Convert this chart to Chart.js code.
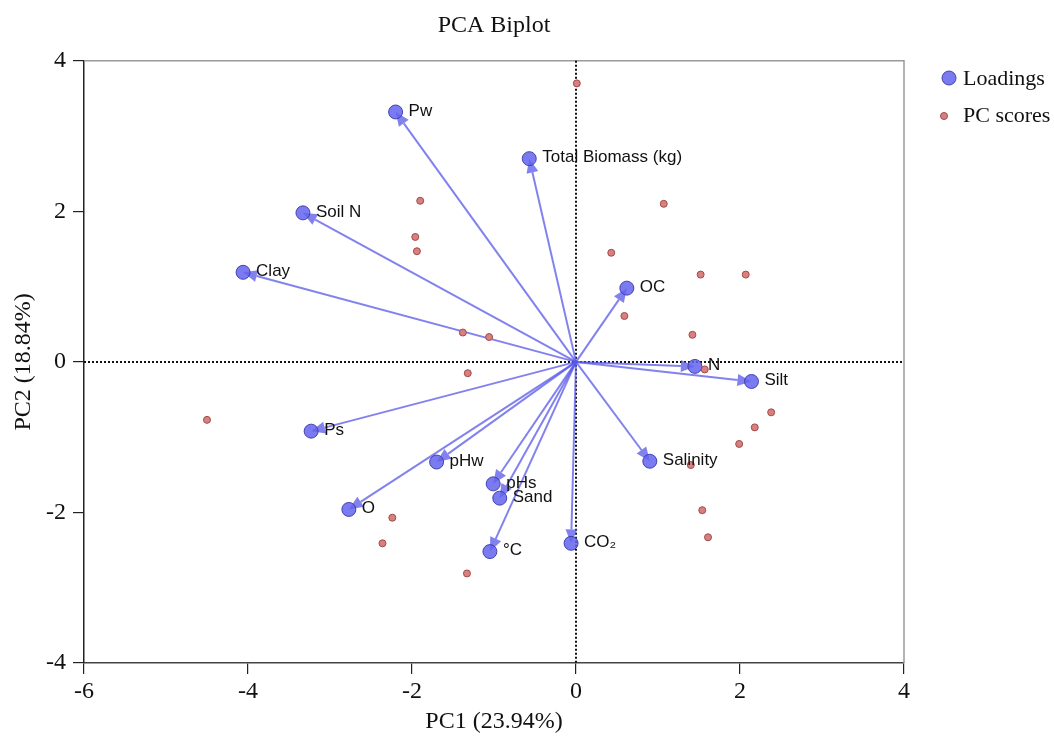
<!DOCTYPE html>
<html>
<head>
<meta charset="utf-8">
<script src="https://cdn.jsdelivr.net/npm/chart.js@4.4.1/dist/chart.umd.min.js"></script>
<style>
html,body{margin:0;padding:0;background:#fff;}
#wrap{width:1054px;height:738px;position:relative;}
</style>
</head>
<body>
<div id="wrap"><canvas id="c" width="1054" height="738"></canvas></div>
<script>
// ---- Data ----
const varNames = ["Pw","Total Biomass (kg)","Soil N","Clay","OC","N","Silt","Salinity","Ps","pHw","pHs","Sand","O","°C","CO₂"];
const loadX = [-2.20,-0.57,-3.33,-4.06,0.62,1.45,2.14,0.90,-3.23,-1.70,-1.01,-0.93,-2.77,-1.05,-0.06];
const loadY = [3.32,2.70,1.98,1.19,0.98,-0.06,-0.26,-1.32,-0.92,-1.33,-1.62,-1.81,-1.96,-2.52,-2.41];

const scoreX = [0.01,-1.90,-1.96,-1.94,1.07,0.43,1.52,2.07,0.59,1.42,-1.38,-1.06,1.57,-1.32,-4.50,2.38,2.18,1.99,1.40,1.54,1.61,-2.24,-2.36,-1.33];
const scoreY = [3.70,2.14,1.66,1.47,2.10,1.45,1.16,1.16,0.61,0.36,0.39,0.33,-0.10,-0.15,-0.77,-0.67,-0.87,-1.09,-1.37,-1.97,-2.33,-2.07,-2.41,-2.81];

const xTicks = [-6,-4,-2,0,2,4];
const yTicks = [-4,-2,0,2,4];

const titleText = "PCA Biplot";
const xTitle = "PC1 (23.94%)";
const yTitle = "PC2 (18.84%)";
const legendNames = ["Loadings","PC scores"];

// ---- Styles ----
const serif = "'Liberation Serif','Times New Roman',serif";
const sans = "'Liberation Sans',Arial,sans-serif";
const loadFill = "rgba(100,100,238,0.85)";
const loadBorder = "rgba(55,55,170,0.9)";
const arrowColor = "rgba(88,88,232,0.75)";
const scoreFill = "#d88080";
const scoreBorder = "#a04a4a";

const biplotPlugin = {
  id: 'biplot',
  beforeDatasetsDraw(chart) {
    const {ctx, chartArea: a, scales: {x, y}} = chart;
    ctx.save();
    // frame (top/right gray)
    ctx.strokeStyle = "#9a9a9a";
    ctx.lineWidth = 1.5;
    ctx.beginPath();
    ctx.moveTo(a.left, a.top); ctx.lineTo(a.right, a.top); ctx.lineTo(a.right, a.bottom);
    ctx.stroke();
    // zero dotted lines
    ctx.strokeStyle = "#111";
    ctx.lineWidth = 2;
    ctx.setLineDash([2, 2]);
    const x0 = x.getPixelForValue(0), y0 = y.getPixelForValue(0);
    ctx.beginPath();
    ctx.moveTo(x0, a.top); ctx.lineTo(x0, a.bottom);
    ctx.moveTo(a.left, y0); ctx.lineTo(a.right, y0);
    ctx.stroke();
    ctx.setLineDash([]);
    // arrows
    ctx.strokeStyle = arrowColor;
    ctx.fillStyle = arrowColor;
    ctx.lineWidth = 2;
    for (let i = 0; i < loadX.length; i++) {
      const px = x.getPixelForValue(loadX[i]), py = y.getPixelForValue(loadY[i]);
      const ang = Math.atan2(py - y0, px - x0);
      const L = 14, W = 6;
      const bx = px - L * Math.cos(ang), by = py - L * Math.sin(ang);
      ctx.beginPath();
      ctx.moveTo(x0, y0); ctx.lineTo(bx, by);
      ctx.stroke();
      ctx.beginPath();
      ctx.moveTo(px, py);
      ctx.lineTo(bx + W * Math.sin(ang), by - W * Math.cos(ang));
      ctx.lineTo(bx - W * Math.sin(ang), by + W * Math.cos(ang));
      ctx.closePath();
      ctx.fill();
    }
    ctx.restore();
  },
  afterDatasetsDraw(chart) {
    const {ctx, scales: {x, y}} = chart;
    ctx.save();
    ctx.fillStyle = "#111";
    ctx.font = "17px " + sans;
    ctx.textAlign = "left";
    ctx.textBaseline = "middle";
    for (let i = 0; i < varNames.length; i++) {
      const px = x.getPixelForValue(loadX[i]), py = y.getPixelForValue(loadY[i]);
      ctx.fillText(varNames[i], px + 13, py - 1);
    }
    // legend
    ctx.font = "22px " + serif;
    ctx.fillStyle = "#111";
    ctx.fillText(legendNames[0], 963, 79);
    ctx.fillText(legendNames[1], 963, 116);
    ctx.beginPath();
    ctx.arc(949, 78, 7, 0, Math.PI * 2);
    ctx.fillStyle = loadFill; ctx.fill();
    ctx.strokeStyle = loadBorder; ctx.lineWidth = 1; ctx.stroke();
    ctx.beginPath();
    ctx.arc(944, 116, 3.5, 0, Math.PI * 2);
    ctx.fillStyle = scoreFill; ctx.fill();
    ctx.strokeStyle = scoreBorder; ctx.stroke();
    ctx.restore();
  }
};

new Chart(document.getElementById('c'), {
  type: 'scatter',
  data: {
    datasets: [
      {
        label: legendNames[1],
        data: scoreX.map((v, i) => ({x: v, y: scoreY[i]})),
        pointRadius: 3.5,
        pointHoverRadius: 3.5,
        backgroundColor: scoreFill,
        borderColor: scoreBorder,
        borderWidth: 1
      },
      {
        label: legendNames[0],
        data: loadX.map((v, i) => ({x: v, y: loadY[i]})),
        pointRadius: 7,
        pointHoverRadius: 7,
        backgroundColor: loadFill,
        borderColor: loadBorder,
        borderWidth: 1
      }
    ]
  },
  options: {
    responsive: false,
    animation: false,
    events: [],
    layout: {padding: {left: 0, right: 150, top: 0, bottom: 0}},
    plugins: {
      legend: {display: false},
      tooltip: {enabled: false},
      title: {
        display: true,
        text: titleText,
        fullSize: false,
        color: "#111",
        font: {family: serif, size: 24, weight: 'normal', lineHeight: 1.2},
        padding: {top: 11, bottom: 21}
      }
    },
    scales: {
      x: {
        type: 'linear',
        min: -6, max: 4,
        afterBuildTicks: (s) => { s.ticks = xTicks.map(v => ({value: v})); },
        afterFit: (s) => { s.height = 75; },
        grid: {drawOnChartArea: false, drawTicks: true, tickLength: 11, color: "#222", lineWidth: 1.2},
        border: {display: true, color: "#444", width: 1.5},
        ticks: {color: "#111", padding: 3, font: {family: serif, size: 24}},
        title: {display: true, text: xTitle, color: "#111", font: {family: serif, size: 24, lineHeight: 1.2}, padding: {top: 0, bottom: 2}}
      },
      y: {
        type: 'linear',
        min: -4, max: 4,
        afterBuildTicks: (s) => { s.ticks = yTicks.map(v => ({value: v})); },
        afterFit: (s) => { s.width = 84; },
        grid: {drawOnChartArea: false, drawTicks: true, tickLength: 11, color: "#222", lineWidth: 1.2},
        border: {display: true, color: "#222", width: 1.5},
        ticks: {color: "#111", padding: 7, font: {family: serif, size: 24}},
        title: {display: true, text: yTitle, color: "#111", font: {family: serif, size: 24, lineHeight: 1.2}, padding: {top: 9, bottom: 0}}
      }
    }
  },
  plugins: [biplotPlugin]
});
</script>
</body>
</html>
